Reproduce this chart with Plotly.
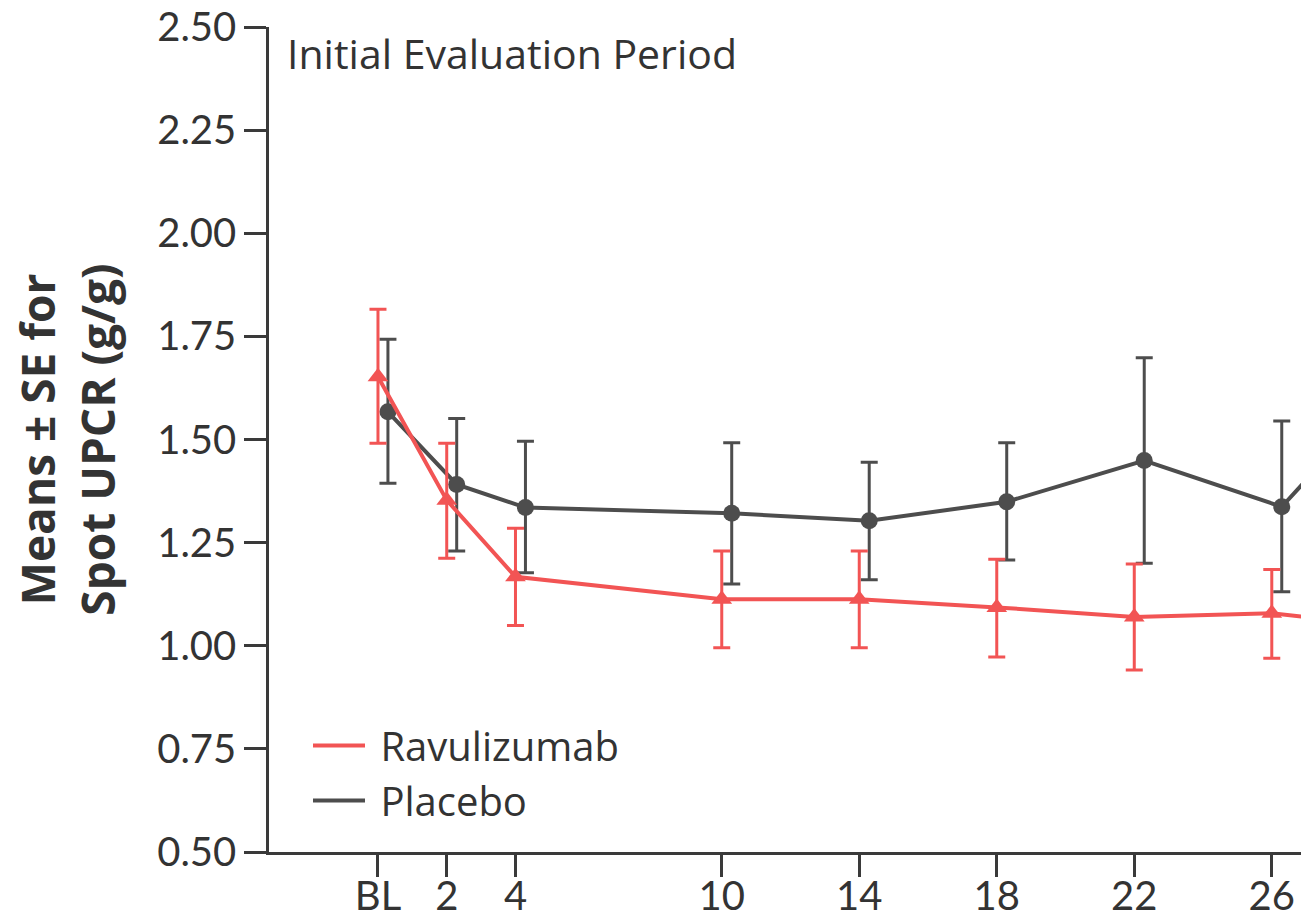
import plotly.graph_objects as go

# ---- data ----
weeks = [0, 2, 4, 10, 14, 18, 22, 26, 30]
tick_vals = [0, 2, 4, 10, 14, 18, 22, 26]
tick_text = ["BL", "2", "4", "10", "14", "18", "22", "26"]
y_tick_vals = [0.5, 0.75, 1.0, 1.25, 1.5, 1.75, 2.0, 2.25, 2.5]
y_tick_text = ["0.50", "0.75", "1.00", "1.25", "1.50", "1.75", "2.00", "2.25", "2.50"]

ravu_mean  = [1.652, 1.353, 1.167, 1.113, 1.113, 1.093, 1.070, 1.079, 1.04]
ravu_upper = [1.816, 1.491, 1.285, 1.230, 1.230, 1.210, 1.198, 1.185, 1.16]
ravu_lower = [1.491, 1.212, 1.049, 0.995, 0.995, 0.973, 0.941, 0.970, 0.92]

plac_mean  = [1.567, 1.391, 1.335, 1.321, 1.303, 1.349, 1.449, 1.337, 1.70]
plac_upper = [1.743, 1.551, 1.496, 1.492, 1.445, 1.492, 1.698, 1.545, 1.95]
plac_lower = [1.394, 1.230, 1.177, 1.150, 1.160, 1.208, 1.200, 1.131, 1.45]

RED = "#F25454"
GRAY = "#4D4D4D"
TXT = "#333333"
AX = "#3A3A3A"
FONT = "Open Sans"
TICKFONT = "Lato"

dodge_plac = 0.29

def errs(mean, up, lo):
    return [u - m for u, m in zip(up, mean)], [m - l for m, l in zip(mean, lo)]

rp, rm = errs(ravu_mean, ravu_upper, ravu_lower)
pp, pm = errs(plac_mean, plac_upper, plac_lower)

fig = go.Figure()
fig.add_trace(go.Scatter(
    x=[w + dodge_plac for w in weeks], y=plac_mean, name="Placebo",
    mode="lines+markers", showlegend=False,
    line=dict(color=GRAY, width=4),
    marker=dict(symbol="circle", size=17, color=GRAY),
    error_y=dict(type="data", array=pp, arrayminus=pm, color=GRAY,
                 thickness=3, width=8.5),
))
fig.add_trace(go.Scatter(
    x=weeks, y=ravu_mean, name="Ravulizumab",
    mode="lines+markers", showlegend=False,
    line=dict(color=RED, width=4),
    marker=dict(symbol="triangle-up", size=18, color=RED),
    error_y=dict(type="data", array=rp, arrayminus=rm, color=RED,
                 thickness=3, width=8.5),
))
# legend entries (line only, as in the reference)
fig.add_trace(go.Scatter(x=[None], y=[None], mode="lines", name=" Ravulizumab",
                         line=dict(color=RED, width=4)))
fig.add_trace(go.Scatter(x=[None], y=[None], mode="lines", name=" Placebo",
                         line=dict(color=GRAY, width=4)))

fig.update_layout(
    width=1301, height=921,
    margin=dict(l=269, r=0, t=27, b=69, autoexpand=False),
    paper_bgcolor="white", plot_bgcolor="white",
    font=dict(family=FONT, color=TXT, size=40),
    showlegend=True,
    legend=dict(
        x=(308 - 269) / 1032, y=(852 - 713) / 825, xanchor="left", yanchor="top",
        font=dict(family=FONT, size=40, color=TXT),
        bgcolor="rgba(0,0,0,0)", itemwidth=52,
    ),
    annotations=[dict(
        text="Initial Evaluation Period", xref="paper", yref="paper",
        x=(285 - 269) / 1032, y=1.0 + 4 / 825,
        xanchor="left", yanchor="top", showarrow=False,
        font=dict(family=FONT, size=41, color=TXT),
    )],
)

fig.update_xaxes(
    range=[-3.17, 26.85], automargin=False,
    tickmode="array", tickvals=tick_vals, ticktext=tick_text,
    ticks="outside", ticklen=22, tickwidth=2.5, tickcolor=AX,
    showline=True, linecolor=AX, linewidth=2.5,
    showgrid=False, zeroline=False,
    ticklabelstandoff=-15, ticklabeloverflow="allow",
    tickfont=dict(family=TICKFONT, size=40, color=TXT),
)
fig.update_yaxes(
    range=[0.5, 2.5], automargin=False,
    tickmode="array", tickvals=y_tick_vals, ticktext=y_tick_text,
    ticks="outside", ticklen=22, tickwidth=2.5, tickcolor=AX,
    showline=True, linecolor=AX, linewidth=2.5,
    showgrid=False, zeroline=False,
    ticklabeloverflow="allow",
    tickfont=dict(family=TICKFONT, size=40, color=TXT),
    title=dict(text="<b>Means ± SE for<br>Spot UPCR (g/g)</b>",
               font=dict(family=FONT, size=46, color=TXT), standoff=28),
)

fig.write_html("out.html")
